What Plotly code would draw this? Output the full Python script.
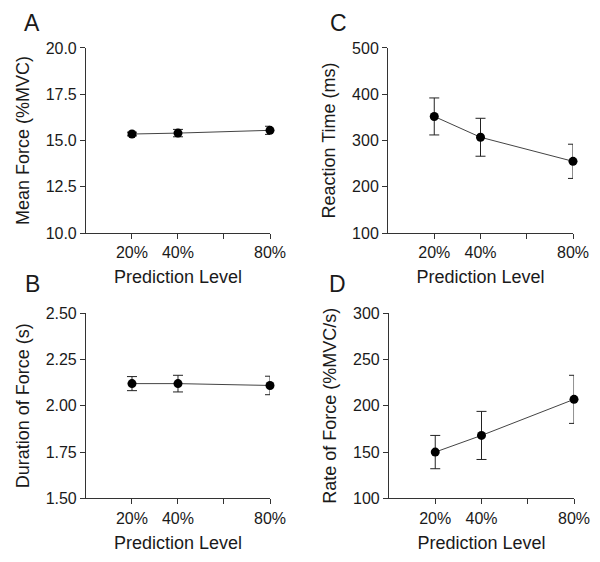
import plotly.graph_objects as go
from plotly.subplots import make_subplots

levels = [20, 40, 80]
level_ticks = [20, 40, 60, 80]
level_labels = ["20%", "40%", "", "80%"]

mean_force = [15.35, 15.40, 15.55]
mean_force_err = [0.10, 0.20, 0.22]

reaction_time = [352, 307, 255]
reaction_time_err = [40, 41, 37]

duration = [2.12, 2.12, 2.11]
duration_err = [0.038, 0.045, 0.05]

rate_force = [150, 168, 207]
rate_force_err = [18, 26, 26]

panels = [
    # (row, col, values, errors, y title, y range, y dtick, tick format)
    (1, 1, mean_force, mean_force_err, "Mean Force (%MVC)", [10, 20], 2.5, ".1f"),
    (1, 2, reaction_time, reaction_time_err, "Reaction Time (ms)", [100, 500], 100, "d"),
    (2, 1, duration, duration_err, "Duration of Force (s)", [1.5, 2.5], 0.25, ".2f"),
    (2, 2, rate_force, rate_force_err, "Rate of Force (%MVC/s)", [100, 300], 50, "d"),
]

text_color = "#1a1a1a"
line_color = "#333333"
font = "Liberation Sans, Arial, sans-serif"

fig = make_subplots(rows=2, cols=2)

for row, col, vals, errs, ytitle, yrange, dtick, fmt in panels:
    fig.add_trace(go.Scatter(
        x=levels, y=vals,
        mode="lines+markers",
        line=dict(color="#444444", width=1),
        marker=dict(color="black", size=9),
        error_y=dict(type="data", array=errs, visible=True,
                     color="#222222", thickness=1, width=5),
        cliponaxis=False,
        showlegend=False,
    ), row=row, col=col)
    fig.update_xaxes(
        range=[0, 80], tickvals=level_ticks, ticktext=level_labels,
        ticks="outside", ticklen=5, tickcolor=line_color,
        showline=True, linecolor=line_color, linewidth=1,
        showgrid=False, zeroline=False, automargin=False,
        tickfont=dict(size=16, color=text_color),
        ticklabelstandoff=0,
        title=dict(text="Prediction Level", font=dict(size=18, color=text_color), standoff=10),
        row=row, col=col,
    )
    fig.update_yaxes(
        range=yrange, dtick=dtick, tick0=yrange[0], tickformat=fmt,
        ticks="outside", ticklen=5, tickcolor=line_color,
        showline=True, linecolor=line_color, linewidth=1,
        showgrid=False, zeroline=False, automargin=False,
        tickfont=dict(size=16, color=text_color),
        title=dict(text=ytitle, font=dict(size=18, color=text_color), standoff=11),
        row=row, col=col,
    )

# place the four panels
fig.update_layout(
    xaxis=dict(domain=[0.1433, 0.45], anchor="y"),
    xaxis2=dict(domain=[0.6467, 0.955], anchor="y2"),
    xaxis3=dict(domain=[0.1433, 0.45], anchor="y3"),
    xaxis4=dict(domain=[0.6483, 0.9567], anchor="y4"),
    yaxis=dict(domain=[0.5854, 0.9146], anchor="x"),
    yaxis2=dict(domain=[0.5854, 0.9146], anchor="x2"),
    yaxis3=dict(domain=[0.1133, 0.4425], anchor="x3"),
    yaxis4=dict(domain=[0.1133, 0.4425], anchor="x4"),
)

for letter, x, y in [("A", 32, 23), ("C", 338, 23), ("B", 32, 284), ("D", 337, 284)]:
    fig.add_annotation(
        text=letter, x=x / 600, y=1 - y / 562, xref="paper", yref="paper",
        showarrow=False, xanchor="center", yanchor="middle",
        font=dict(size=23, color=text_color),
    )

fig.update_layout(
    width=600, height=562,
    margin=dict(l=0, r=0, t=0, b=0),
    paper_bgcolor="white", plot_bgcolor="white",
    font=dict(family=font, color=text_color),
)

# drop the browser's default body margin so the figure sits at the page corner
fig.write_html("out.html", config={"displayModeBar": False},
               post_script="document.body.style.margin='0';")
